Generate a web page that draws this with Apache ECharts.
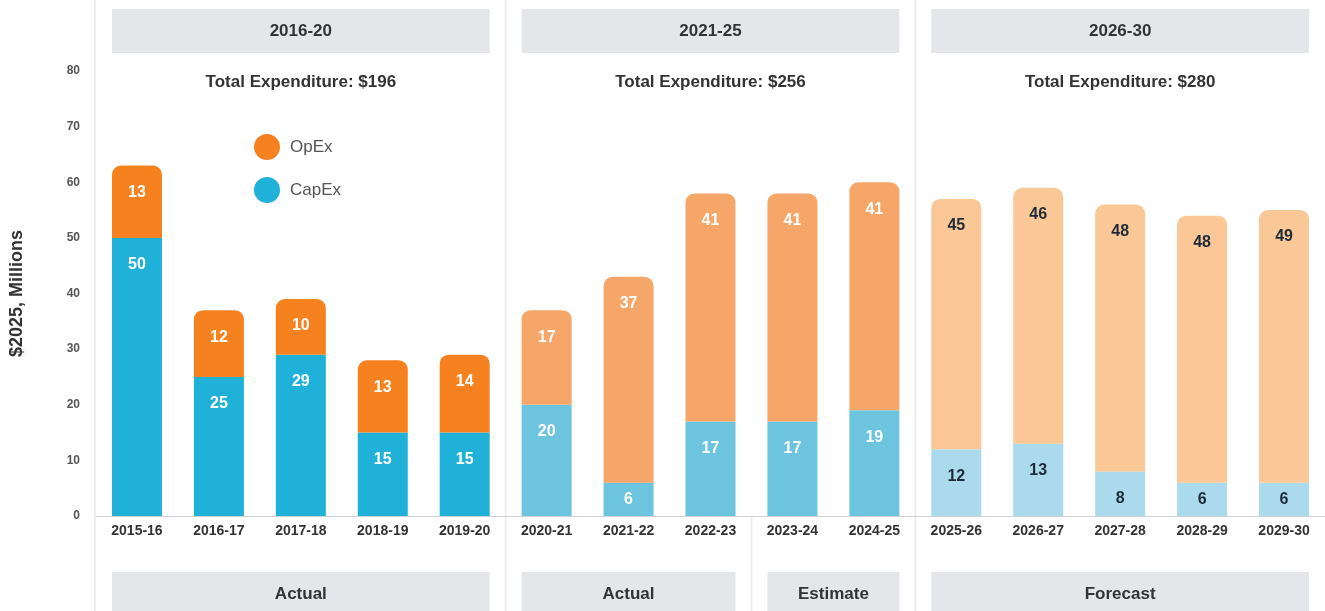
<!DOCTYPE html>
<html>
<head>
<meta charset="utf-8">
<script src="https://cdn.jsdelivr.net/npm/echarts@6/dist/echarts.min.js"></script>
<style>
  html, body { margin: 0; padding: 0; background: #ffffff; }
  #chart { width: 1325px; height: 611px; }
</style>
</head>
<body>
<div id="chart"></div>
<script>
// Financial years on the category axis
const years = ['2015-16', '2016-17', '2017-18', '2018-19', '2019-20',
               '2020-21', '2021-22', '2022-23', '2023-24', '2024-25',
               '2025-26', '2026-27', '2027-28', '2028-29', '2029-30'];

// Expenditure, $2025 millions
const capex = [50, 25, 29, 15, 15, 20, 6, 17, 17, 19, 12, 13, 8, 6, 6];
const opex  = [13, 12, 10, 13, 14, 17, 37, 41, 41, 41, 45, 46, 48, 48, 49];

// Value axis ticks
const yMin = 0, yMax = 80, yStep = 10;

// Five-year periods (header boxes) and their stated totals
const periods = ['2016-20', '2021-25', '2026-30'];
const periodTotals = [196, 256, 280];
const periodRanges = [[0, 4], [5, 9], [10, 14]];

// Data status boxes below the axis
const phases = ['Actual', 'Actual', 'Estimate', 'Forecast'];
const phaseRanges = [[0, 4], [5, 7], [8, 9], [10, 14]];

// Colours for each period: CapEx, OpEx, value label
const periodColors = [
  { capex: '#1fb1d8', opex: '#f5821f', label: '#ffffff' },
  { capex: '#6cc4de', opex: '#f6a668', label: '#ffffff' },
  { capex: '#aadaeb', opex: '#fac896', label: '#1e2a38' }
];

const FONT = '"Liberation Sans", Arial, Helvetica, sans-serif';
const BAR_W = 50;

function periodOf(i) {
  return periodRanges.findIndex(r => i >= r[0] && i <= r[1]);
}

function buildItems(values, key) {
  return values.map((v, i) => {
    const c = periodColors[periodOf(i)];
    return {
      value: v,
      itemStyle: { color: c[key] },
      label: {
        color: c.label,
        position: v < 8 ? 'inside' : 'insideTop',
        distance: 19
      }
    };
  });
}

const labelBase = {
  show: true,
  fontFamily: FONT,
  fontSize: 16,
  fontWeight: 'bold',
  formatter: p => p.value
};

const chart = echarts.init(document.getElementById('chart'), null, { renderer: 'canvas' });

chart.setOption({
  animation: false,
  backgroundColor: '#ffffff',
  textStyle: { fontFamily: FONT },
  grid: { left: 94, top: 71, width: 1234.5, height: 445, containLabel: false },
  legend: {
    data: ['OpEx', 'CapEx'],
    orient: 'vertical',
    left: 254,
    top: 134,
    icon: 'circle',
    itemWidth: 26,
    itemHeight: 26,
    itemGap: 17,
    padding: 0,
    selectedMode: false,
    textStyle: { fontFamily: FONT, fontSize: 17, color: '#555555', padding: [0, 0, 0, 5] }
  },
  xAxis: {
    type: 'category',
    data: years,
    axisLine: { show: true, lineStyle: { color: '#cfd2d6', width: 1 } },
    axisTick: { show: false },
    axisLabel: { fontFamily: FONT, fontSize: 14, fontWeight: 'bold', color: '#333333', margin: 8 }
  },
  yAxis: {
    type: 'value',
    min: yMin,
    max: yMax,
    interval: yStep,
    name: '$2025, Millions',
    nameLocation: 'middle',
    nameGap: 70,
    nameTextStyle: { fontFamily: FONT, fontSize: 18, fontWeight: 'bold', color: '#333333' },
    axisLine: { show: false },
    axisTick: { show: false },
    splitLine: { show: false },
    axisLabel: { fontFamily: FONT, fontSize: 12, fontWeight: 'bold', color: '#555555', margin: 16 }
  },
  series: [
    {
      name: 'CapEx',
      type: 'bar',
      stack: 'total',
      barWidth: BAR_W,
      itemStyle: { color: periodColors[0].capex },
      label: labelBase,
      data: buildItems(capex, 'capex')
    },
    {
      name: 'OpEx',
      type: 'bar',
      stack: 'total',
      barWidth: BAR_W,
      itemStyle: { color: periodColors[0].opex, borderRadius: [9, 9, 0, 0] },
      label: labelBase,
      data: buildItems(opex, 'opex')
    }
  ]
});

// Panel furniture placed from the category axis positions
const cx = i => chart.convertToPixel({ xAxisIndex: 0 }, i);
const axisY = chart.convertToPixel({ yAxisIndex: 0 }, 0);
const H = 611;
const graphics = [];

function addLine(x, y1, y2, color) {
  graphics.push({
    type: 'line', silent: true, z: 0,
    shape: { x1: x, y1: y1, x2: x, y2: y2 },
    style: { stroke: color, lineWidth: 2 }
  });
}

function addBox(i0, i1, y, h, text, ty) {
  const x0 = cx(i0) - BAR_W / 2;
  const x1 = cx(i1) + BAR_W / 2;
  graphics.push({
    type: 'rect', silent: true, z: 0,
    shape: { x: x0, y: y, width: x1 - x0, height: h },
    style: { fill: '#e4e6e9' }
  });
  graphics.push({
    type: 'text', silent: true, z: 1,
    style: {
      text: text, x: (x0 + x1) / 2, y: ty,
      align: 'center', verticalAlign: 'middle',
      font: 'bold 17px ' + FONT, fill: '#333333'
    }
  });
}

// Left edge and period separators
addLine(95, 0, H, '#eceef0');
addLine((cx(4) + cx(5)) / 2, 0, H, '#eceef0');
addLine((cx(9) + cx(10)) / 2, 0, H, '#eceef0');
// Actual / Estimate separator below the axis
addLine((cx(7) + cx(8)) / 2, axisY + 1, H, '#eceef0');

periods.forEach((p, k) => {
  const r = periodRanges[k];
  addBox(r[0], r[1], 9, 44, p, 31);
  graphics.push({
    type: 'text', silent: true, z: 1,
    style: {
      text: 'Total Expenditure: $' + periodTotals[k],
      x: cx(r[0] + 2), y: 82,
      align: 'center', verticalAlign: 'middle',
      font: 'bold 17px ' + FONT, fill: '#333333'
    }
  });
});

phases.forEach((p, k) => {
  const r = phaseRanges[k];
  addBox(r[0], r[1], 572, 45, p, 594);
});

chart.setOption({ graphic: graphics });
</script>
</body>
</html>
